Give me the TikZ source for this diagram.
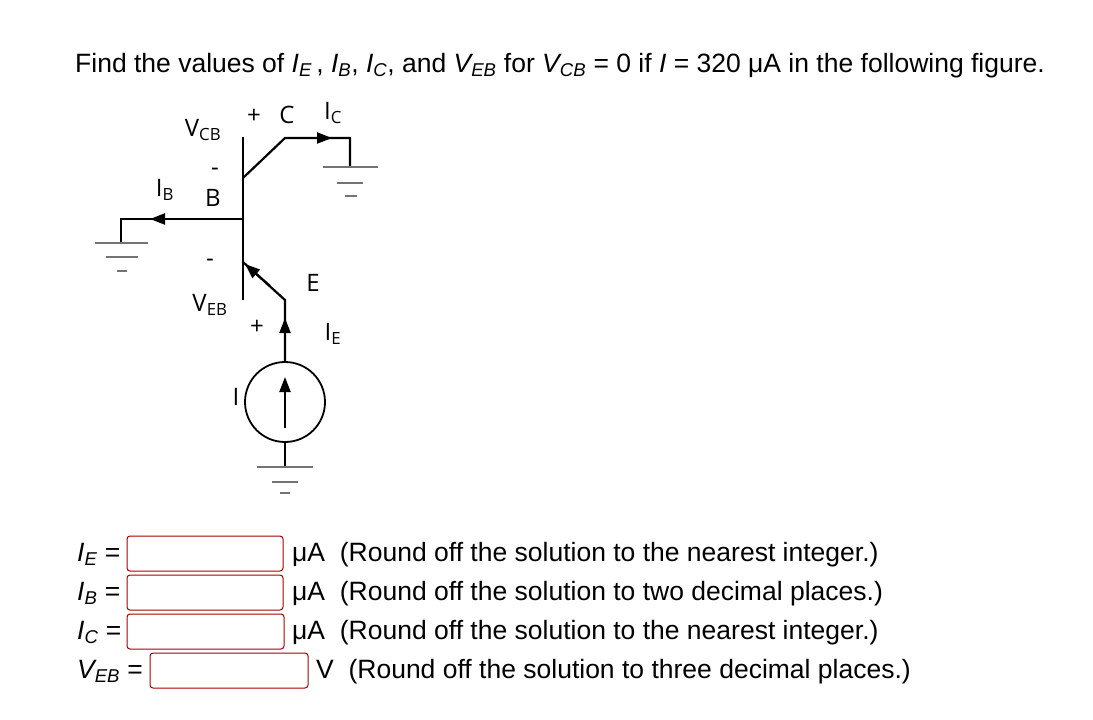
\documentclass[tikz,border=0pt]{standalone}
\usepackage{fontspec}
\setmainfont{Liberation Sans}
\newfontfamily\dfont{Open Sans}
\usetikzlibrary{arrows.meta}
\begin{document}
\begin{tikzpicture}[x=1pt,y=-1pt,
  wire/.style={line width=2.2pt,black},
  gnd/.style={line width=2.4pt,black!55},
  lbl/.style={font=\dfont\fontsize{24}{24}\selectfont,inner sep=0pt},
  txt/.style={font=\fontsize{26.5}{27}\selectfont,inner sep=0pt,anchor=base west},
  ansbox/.style={draw=red!65!black,line width=1pt,rounded corners=3pt},
  tip/.style={-{Triangle[length=15pt,width=11pt]}}]
\useasboundingbox (0,0) rectangle (1093,720);
\node[txt] (q) at (75,72) {Find the values of \textit{I\textsubscript{E}}\,, \textit{I\textsubscript{B}}, \textit{I\textsubscript{C}}, and \textit{V\textsubscript{EB}} for \textit{V\textsubscript{CB}} = 0 if \textit{I} = 320 μA in the following figure.};
% transistor
\coordinate (bt) at (243,137); \coordinate (bb) at (243,300);
\draw[wire] (bt) -- (bb);
\coordinate (c0) at (243,178); \coordinate (c1) at (285,138); \coordinate (c2) at (350,138); \coordinate (c3) at (350,167);
\draw[wire] (c0) -- (c1) -- (c2) -- (c3);
\draw[wire,tip] (c1) -- (332,138);
\coordinate (b0) at (243,219); \coordinate (b1) at (121,219); \coordinate (b2) at (121,243);
\draw[wire] (b0) -- (b1) -- (b2);
\draw[wire,tip] (200,219) -- (150,219);
\coordinate (e0) at (243,262); \coordinate (e1) at (285,300); \coordinate (e2) at (285,362);
\draw[wire] (e0) -- (e1) -- (e2);
\draw[wire,tip] (270,286) -- (245,264);
\draw[wire,tip] (285,345) -- (285,318);
\node[draw,circle,line width=1.8pt,minimum size=80pt,inner sep=0pt] (src) at (285,402) {};
\draw[wire,tip] (285,428) -- (285,377);
\coordinate (g0) at (285,467);
\draw[wire] (src.south) -- (g0);
% grounds
\draw[gnd] (323,167) -- (378,167) (337,183) -- (363,183) (345,196) -- (357,196);
\draw[gnd] (95,243) -- (148,243) (106,257) -- (138,257) (117,271) -- (127,271);
\draw[gnd] (257,467) -- (313,467) (272,482) -- (298,482) (280,493) -- (290,493);
% labels
\node[lbl] (lp1) at (254,116) {+};
\node[lbl] (lC) at (287,115) {C};
\node[lbl] (lIC) at (333,113) {I\textsubscript{C}};
\node[lbl] (lVCB) at (203,130) {V\textsubscript{CB}};
\node[lbl] (lm1) at (215,172) {-};
\node[lbl] (lIB) at (165,190) {I\textsubscript{B}};
\node[lbl] (lB) at (213,198) {B};
\node[lbl] (lm2) at (210,263) {-};
\node[lbl] (lE) at (313,283) {E};
\node[lbl] (lVEB) at (210,305) {V\textsubscript{EB}};
\node[lbl] (lp2) at (257,327) {+};
\node[lbl] (lIE) at (333,334) {I\textsubscript{E}};
\node[lbl] (lI) at (236,397) {I};
% answers
\node[txt] (a1) at (77,561) {\textit{I\textsubscript{E}} =};
\node[txt] (a2) at (77,600) {\textit{I\textsubscript{B}} =};
\node[txt] (a3) at (77,639) {\textit{I\textsubscript{C}} =};
\node[txt] (a4) at (77,678) {\textit{V\textsubscript{EB}} =};
\draw[ansbox] (127,536) rectangle (283,571);
\draw[ansbox] (127,575) rectangle (283,610);
\draw[ansbox] (127,614) rectangle (284,649);
\draw[ansbox] (150,653) rectangle (308,688);
\node[txt] (r1) at (292,561) {μA~ (Round off the solution to the nearest integer.)};
\node[txt] (r2) at (292,600) {μA~ (Round off the solution to two decimal places.)};
\node[txt] (r3) at (292,639) {μA~ (Round off the solution to the nearest integer.)};
\node[txt] (r4) at (316,678) {V~ (Round off the solution to three decimal places.)};
\end{tikzpicture}
\end{document}
